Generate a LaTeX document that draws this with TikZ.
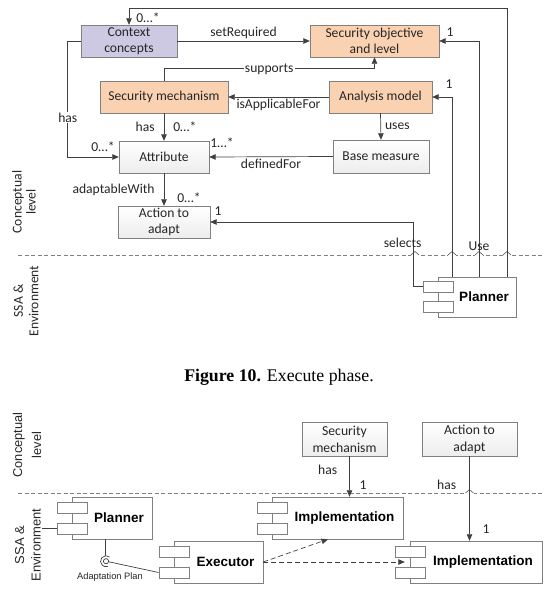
\documentclass[tikz,border=0pt]{standalone}
\usepackage{fontspec}
\setmainfont{Carlito}
\newfontfamily\arialfont{Liberation Sans}
\newfontfamily\timesfont{Liberation Serif}
\usetikzlibrary{arrows.meta,positioning,calc,shadows}
\definecolor{linegray}{RGB}{64,64,64}
\definecolor{boxgray}{RGB}{128,128,128}
\definecolor{ctxpurple}{RGB}{206,201,227}
\definecolor{peach}{RGB}{250,210,178}
\definecolor{textdark}{RGB}{38,38,38}

\begin{document}
\begin{tikzpicture}[x=1pt, y=-1pt,
    box/.style={rectangle, draw=boxgray, text=textdark, align=center, inner sep=1pt, minimum height=32pt, font=\fontsize{13.6}{16.5}\selectfont, drop shadow={opacity=0.2, shadow xshift=1pt, shadow yshift=-1pt}},
    plain/.style={box, top color=white, bottom color=gray!14},
    comp/.style={rectangle, draw=boxgray, fill=white, minimum height=42pt, font=\arialfont\bfseries\fontsize{13.5}{16}\selectfont, text=black},
    port/.style={rectangle, draw=boxgray, fill=white, minimum width=30pt, minimum height=11pt, inner sep=0pt},
    lbl/.style={font=\fontsize{13.6}{16}\selectfont, text=textdark, inner sep=1pt},
    side/.style={text=textdark, align=center, rotate=90, inner sep=1pt},
    arrow/.style={-{Triangle[length=6.5pt,width=5.5pt]}, draw=linegray, line width=0.7pt},
    link/.style={draw=linegray, line width=0.7pt},
    divider/.style={draw=gray, dash pattern=on 4pt off 2.5pt, line width=0.8pt}
]
    \useasboundingbox (0,0) rectangle (544,594);

    % conceptual level, upper figure
    \node[box, fill=ctxpurple, minimum width=96pt] (ctx) at (129,41) {Context\\concepts};
    \node[box, fill=peach, minimum width=129pt] (secobj) at (374.5,41) {Security objective\\and level};
    \node[box, fill=peach, minimum width=128pt] (secmech) at (164,97) {Security mechanism};
    \node[box, fill=peach, minimum width=103pt] (anmodel) at (380.5,97) {Analysis model};
    \node[plain, minimum width=96pt, minimum height=33pt] (basem) at (381,156.5) {Base measure};
    \node[plain, minimum width=90pt] (attr) at (164,157) {Attribute};
    \node[plain, minimum width=92pt] (action) at (164,222) {Action to\\adapt};

    \node[side, font=\fontsize{13.6}{14}\selectfont] (conceptA) at (24,202) {Conceptual\\level};
    \node[side, font=\fontsize{13.6}{15.5}\selectfont] (ssaA) at (26,301) {SSA \&\\Environment};

    \draw[divider] (18,255) -- (544,255);
    \foreach \hx in {415,452,479,507} {
        \fill[white] (\hx-4,253.5) rectangle (\hx+4,256.5);
        \draw[link, line width=0.5pt] (\hx-4,255) -- (\hx,251.5) -- (\hx+4,255);
    }

    \node[comp, minimum width=78pt, minimum height=40pt] (planner) at (477,297) {\hspace*{14pt}Planner};
    \node[port] (plport1) at ($(planner.west)+(0,-10.5)$) {};
    \node[port] (plport2) at ($(planner.west)+(0,10)$) {};

    \draw[arrow] (ctx.east) -- node[lbl, above=1pt] {setRequired} (secobj.west);
    \draw[arrow] (secmech.north) -- ++(0,-12) -| node[lbl, fill=white, pos=0.25] {supports} (secobj.south);
    \draw[arrow] (anmodel.west) -- node[lbl, below=1pt] {isApplicableFor} (secmech.east);
    \draw[arrow] (anmodel.south) -- node[lbl, right=3pt] {uses} (basem.north);
    \draw[arrow] (basem.west) -- node[lbl, below=1pt] {definedFor} (attr.east);
    \draw[arrow] (secmech.south) -- node[lbl, left=8pt] {has} node[lbl, right=8pt] {0…*} (attr.north);
    \draw[arrow] (ctx.west) -- ++(-13,0) |- node[lbl, fill=white, pos=0.33] {has} (attr.west);
    \draw[arrow] (attr.south) -- node[lbl, left=8pt] {adaptableWith} (action.north);
    \draw[arrow] (plport1.west) -- ++(-9,0) |- node[lbl, pos=0.34, xshift=-11pt] {selects} (action.east);
    \draw[arrow] ($(planner.north)+(-25,0)$) |- (anmodel.east);
    \draw[arrow] ($(planner.north)+(2,0)$) |- node[lbl, pos=0.064] {Use} (secobj.east);
    \draw[arrow] ($(planner.north)+(30,0)$) -- ++(0,-268) -| (ctx.north);

    \node[lbl] (m1) at (148,18) {0…*};
    \node[lbl] (m2) at (450,32) {1};
    \node[lbl] (m3) at (449,84) {1};
    \node[lbl] (m4) at (103,147) {0…*};
    \node[lbl] (m5) at (222,143) {1…*};
    \node[lbl] (m6) at (189,198) {0…*};
    \node[lbl] (m7) at (218,211) {1};

    \node[font=\timesfont\fontsize{17.8}{20}\selectfont, text=black] (caption) at (279,377) {\textbf{Figure 10.} Execute phase.};

    % lower figure
    \node[plain, minimum width=85pt, minimum height=34pt, font=\fontsize{13.7}{17}\selectfont] (secmechB) at (344.5,439) {Security\\mechanism};
    \node[plain, minimum width=95pt, minimum height=34pt, font=\fontsize{13.7}{17}\selectfont] (actionB) at (469.5,439) {Action to\\adapt};

    \node[side, font=\arialfont\fontsize{12.8}{19}\selectfont] (conceptB) at (27,445) {Conceptual\\level};
    \node[side, font=\arialfont\fontsize{13}{16.5}\selectfont] (ssaB) at (28,545) {SSA \&\\Environment};

    \draw[divider] (18,493) -- (544,493);
    \fill[white] (465.5,491.5) rectangle (473.5,494.5);
    \draw[link, line width=0.5pt] (465.5,493) -- (469.5,489.5) -- (473.5,493);

    \node[comp, minimum width=80pt] (plannerB) at (112,518) {\hspace*{14pt}Planner};
    \node[port] (plportB1) at ($(plannerB.west)+(0,-10.5)$) {};
    \node[port] (plportB2) at ($(plannerB.west)+(0,10.5)$) {};
    \node[comp, minimum width=89pt] (executor) at (218.5,562) {\hspace*{14pt}Executor};
    \node[port] (export1) at ($(executor.west)+(0,-10.5)$) {};
    \node[port] (export2) at ($(executor.west)+(0,10.5)$) {};
    \node[comp, minimum width=131pt] (implA) at (337.5,518) {\hspace*{14pt}Implementation};
    \node[port] (imAport1) at ($(implA.west)+(0,-10.5)$) {};
    \node[port] (imAport2) at ($(implA.west)+(0,10.5)$) {};
    \node[comp, minimum width=132pt] (implB) at (476,562) {\hspace*{14pt}Implementation};
    \node[port] (imBport1) at ($(implB.west)+(0,-10.5)$) {};
    \node[port] (imBport2) at ($(implB.west)+(0,10.5)$) {};

    \draw[arrow] ($(secmechB.south)+(5,0)$) -- node[lbl, pos=0.34, left=11pt] {has} ($(secmechB.south |- implA.north)+(5,0)$);
    \draw[arrow] (actionB.south) -- node[lbl, pos=0.34, left=12pt] {has} (actionB.south |- implB.north);
    \node[lbl] (m8) at (363,485) {1};
    \node[lbl] (m9) at (486,529) {1};

    \draw[arrow, dash pattern=on 5pt off 3pt] (executor.east) -- ($(implA.south)+(-9.5,0)$);
    \draw[arrow, dash pattern=on 5pt off 3pt] (executor.east) -- ($(implB.west)+(-5,0)$);

    % required interface
    \coordinate (ball) at ($(plannerB.south)+(-6,22)$);
    \draw[link] ($(plannerB.south)+(-7,0)$) -- ++(0,16.5);
    \draw[link] (ball) -- (export2.west);
    \draw[link, fill=white] (ball) circle[radius=2.6];
    \draw[link] ($(ball)+(-50:5.5)$) arc[start angle=-50, end angle=-290, radius=5.5];
    \node[font=\arialfont\fontsize{9.3}{11}\selectfont, text=textdark] (aplan) at (110,577) {Adaptation Plan};

    \coordinate (envpt) at (42,528.5);
    \draw[link] (envpt) -- (plportB2.west);
\end{tikzpicture}
\end{document}
